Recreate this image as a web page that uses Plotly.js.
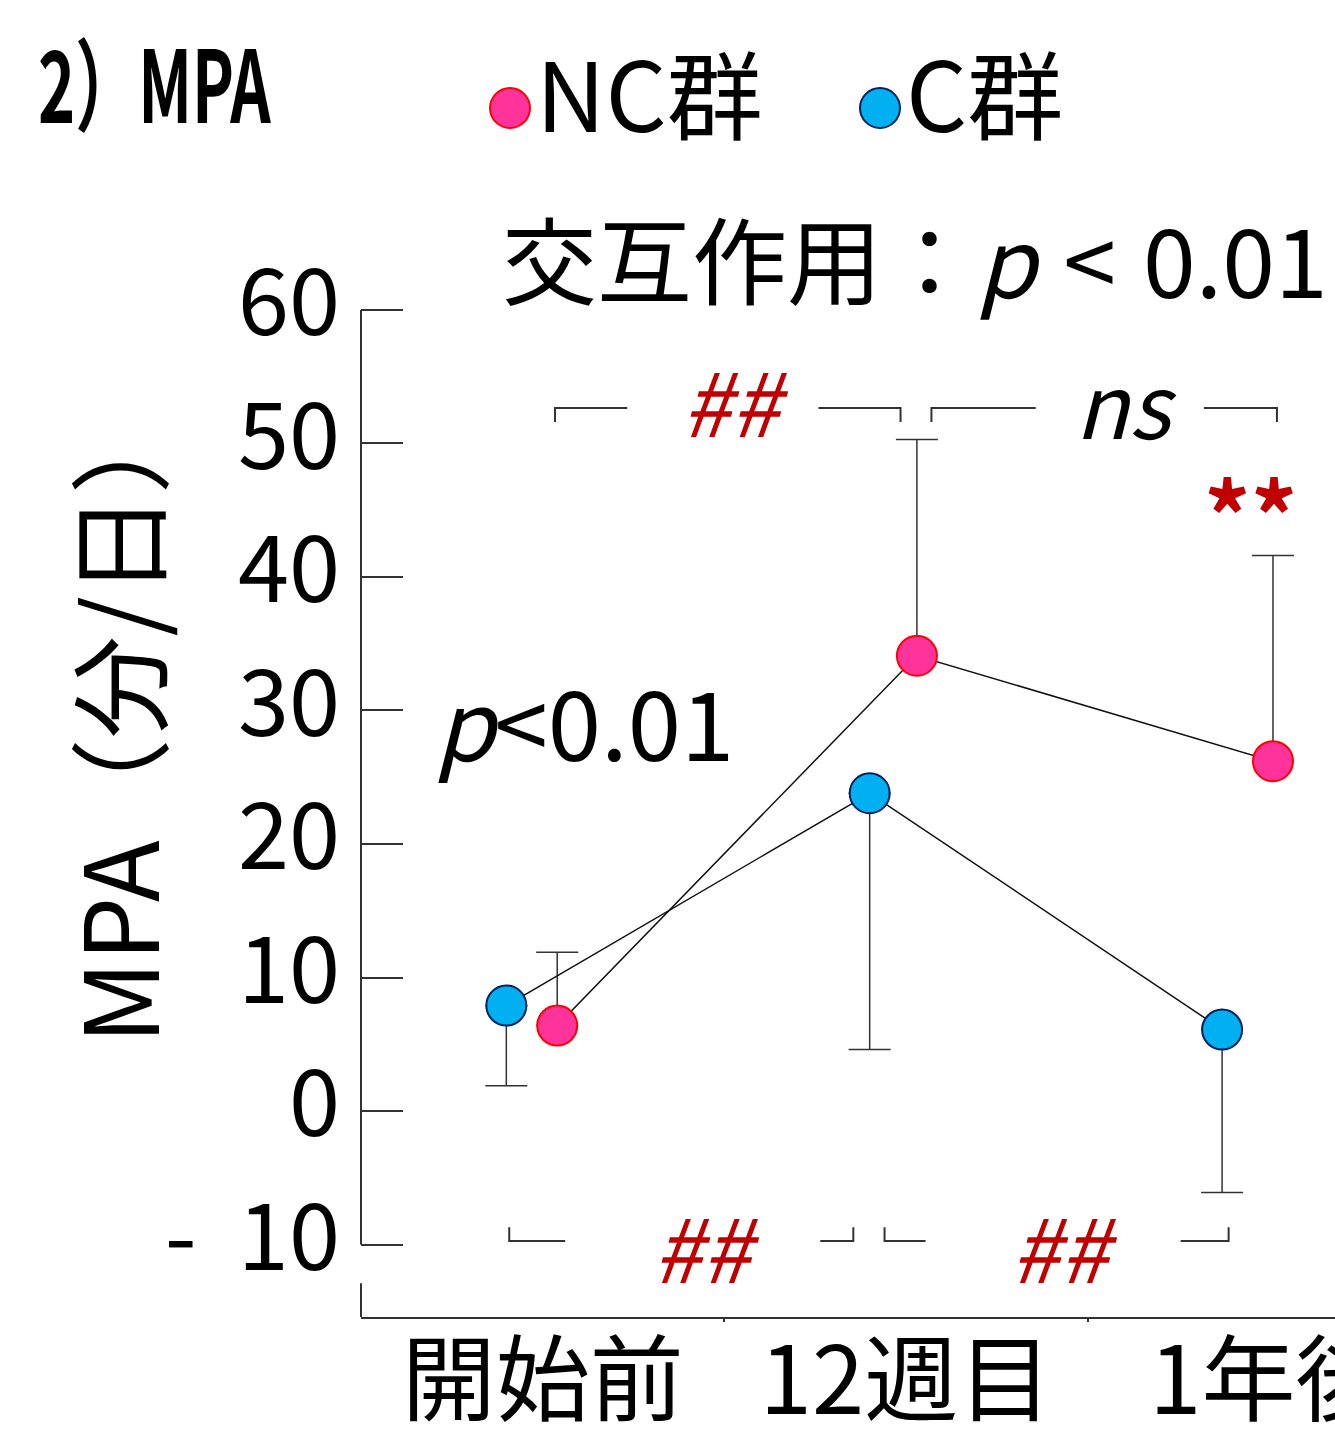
<!DOCTYPE html>
<html>
<head>
<meta charset="utf-8">
<script src="https://cdn.plot.ly/plotly-3.0.1.min.js"></script>
<style>
html,body{margin:0;padding:0;overflow:hidden;background:#fff;}
#chart{width:1460px;height:1438px;}
</style>
</head>
<body>
<div id="chart"></div>
<script>
// ---- data ----
const categories = ['開始前', '12週目', '1年後'];
const seriesNames = ['NC群', 'C群'];
const ncMean = [6.4, 34.1, 26.2];
const ncSD = [5.5, 16.2, 15.4];
const cMean = [7.9, 23.8, 6.1];
const cSD = [6.0, 19.2, 12.2];
const yTickVals = [-10, 0, 10, 20, 30, 40, 50, 60];
const yTickText = ['-\u00a0\u00a010', '0', '10', '20', '30', '40', '50', '60'];
const yTitle = 'MPA（分/日）';
const chartTitle = '2）MPA';

// ---- layout helpers (positions / styles) ----
const W = 1460, H = 1438;
const ncShift = [0.04, 0.03, 0.01];
const cShift = [-0.10, -0.10, -0.13];
const FONT = 'Noto Sans CJK JP, Noto Sans, sans-serif';
const RED = '#C00000';
const INK = '#333333';

const catIdx = categories.map((c, i) => i);
const zeros = catIdx.map(() => 0);

const traces = [
  {
    type: 'scatter', mode: 'lines+markers', name: seriesNames[0],
    x: catIdx.map((i) => i + ncShift[i]), y: ncMean,
    line: {color: '#111', width: 1.5},
    marker: {symbol: 'circle', size: 40, color: '#FF3399', line: {color: '#FF0000', width: 2}},
    error_y: {type: 'data', symmetric: false, array: ncSD, arrayminus: zeros, width: 21, thickness: 1.5, color: INK},
    cliponaxis: false, showlegend: false, hoverinfo: 'skip'
  },
  {
    type: 'scatter', mode: 'lines+markers', name: seriesNames[1],
    x: catIdx.map((i) => i + cShift[i]), y: cMean,
    line: {color: '#111', width: 1.5},
    marker: {symbol: 'circle', size: 40, color: '#00B0F0', line: {color: '#002060', width: 2}},
    error_y: {type: 'data', symmetric: false, array: zeros, arrayminus: cSD, width: 21, thickness: 1.5, color: INK},
    cliponaxis: false, showlegend: false, hoverinfo: 'skip'
  },
  // custom legend (large markers)
  {
    type: 'scatter', mode: 'markers+text', xaxis: 'x2', yaxis: 'y2',
    x: [510, 880], y: [0, 0], text: seriesNames, textposition: 'middle right',
    textfont: {family: FONT, size: 96, color: '#000'},
    marker: {symbol: 'circle', size: 40, color: ['#FF3399', '#00B0F0'], line: {color: ['#FF0000', '#002060'], width: 2}},
    cliponaxis: false, showlegend: false, hoverinfo: 'skip'
  }
];

// brackets
const brackets = [
  {x0: 0.034, x1: 0.985, g0: 0.233, g1: 0.759, y: 52.66, tip: 51.6, label: '<i>##</i>', lx: 0.531, ly: 53.4, color: RED},
  {x0: 1.070, x1: 2.021, g0: 1.357, g1: 1.820, y: 52.66, tip: 51.6, label: '<i>ns</i>', lx: 1.605, ly: 53.2, color: '#000'},
  {x0: -0.092, x1: 0.855, g0: 0.062, g1: 0.764, y: -9.74, tip: -8.7, label: '<i>##</i>', lx: 0.45, ly: -10.0, color: RED},
  {x0: 0.941, x1: 1.888, g0: 1.054, g1: 1.756, y: -9.74, tip: -8.7, label: '<i>##</i>', lx: 1.437, ly: -10.0, color: RED}
];
const shapes = [];
const annotations = [];
brackets.forEach((b) => {
  shapes.push({type: 'path', xref: 'x', yref: 'y',
    path: `M ${b.x0},${b.tip} L ${b.x0},${b.y} L ${b.g0},${b.y}`, line: {color: INK, width: 2}});
  shapes.push({type: 'path', xref: 'x', yref: 'y',
    path: `M ${b.g1},${b.y} L ${b.x1},${b.y} L ${b.x1},${b.tip}`, line: {color: INK, width: 2}});
  annotations.push({x: b.lx, y: b.ly, xref: 'x', yref: 'y', text: b.label, showarrow: false,
    font: {family: FONT, size: 88, color: b.color}, xanchor: 'center', yanchor: 'middle'});
});
// broken y axis line
shapes.push({type: 'line', xref: 'x domain', yref: 'y', x0: 0, x1: 0, y0: -10, y1: 60, line: {color: INK, width: 2}});
shapes.push({type: 'line', xref: 'x domain', yref: 'y', x0: 0, x1: 0, y0: -12.9, y1: -15.43, line: {color: INK, width: 2}});

annotations.push({x: -0.117, y: 64.0, xref: 'x', yref: 'y', xanchor: 'left', yanchor: 'middle', showarrow: false,
  text: '交互作用：<i>p</i>\u00a0\u200a&lt;\u00a0\u200a0.01', font: {family: FONT, size: 95, color: '#000'}});
annotations.push({x: 0.115, y: 29.3, xref: 'x', yref: 'y', xanchor: 'center', yanchor: 'middle', showarrow: false,
  text: '<i>p</i>&lt;0.01', font: {family: FONT, size: 96, color: '#000'}});
annotations.push({x: 1.949, y: 45.0, xref: 'x', yref: 'y', xanchor: 'center', yanchor: 'middle', showarrow: false,
  text: '<b>**</b>', font: {family: FONT, size: 92, color: RED}});
// y axis title placed beside the tick labels
annotations.push({x: 114 / W, y: 1 - 718 / H, xref: 'paper', yref: 'paper', xanchor: 'center', yanchor: 'middle',
  showarrow: false, textangle: -90, text: yTitle, font: {family: FONT, size: 102, color: '#000'}});

const layout = {
  width: W, height: H,
  margin: {l: 0, r: 0, t: 0, b: 0},
  paper_bgcolor: '#fff', plot_bgcolor: '#fff',
  font: {family: FONT, color: '#000'},
  showlegend: false,
  title: {text: chartTitle, xref: 'container', yref: 'container', x: 38 / W, xanchor: 'left', y: 1 - 88 / H, yanchor: 'middle',
    font: {family: 'Noto Sans CJK JP, Noto Sans, sans-serif', size: 100, weight: 'bold', color: '#000'}},
  xaxis: {
    domain: [361 / W, 1451 / W], range: [-0.5, 2.5],
    tickvals: catIdx, ticktext: categories, ticks: '',
    tickfont: {family: FONT, size: 94, color: '#000'},
    showline: true, linecolor: INK, linewidth: 2, showgrid: false, zeroline: false,
    ticklabelstandoff: -18,
    minor: {tickvals: [0.5, 1.5], ticks: 'outside', ticklen: 3, tickcolor: INK, tickwidth: 2},
    fixedrange: true
  },
  yaxis: {
    domain: [(H - 1317) / H, (H - 173) / H], range: [-15.43, 70.26],
    tickvals: yTickVals, ticktext: yTickText,
    ticks: 'inside', ticklen: 42, tickwidth: 2, tickcolor: INK,
    tickfont: {family: FONT, size: 92, color: '#000'},
    ticklabelstandoff: 20, ticklabelshift: -7,
    showline: false, showgrid: false, zeroline: false,
    fixedrange: true
  },
  xaxis2: {domain: [0, 1], range: [0, W], visible: false, anchor: 'y2', fixedrange: true},
  yaxis2: {domain: [1 - 216 / H, 1], range: [-1, 1], visible: false, anchor: 'x2', fixedrange: true},
  shapes: shapes,
  annotations: annotations
};

Plotly.newPlot('chart', traces, layout, {staticPlot: true, displayModeBar: false}).then(() => {
  // condense the title horizontally like the reference's narrow typeface
  const t = document.querySelector('.gtitle');
  if (t) {
    const x0 = parseFloat(t.getAttribute('x')) || 38;
    t.setAttribute('transform', `translate(${x0},0) scale(0.63,1) translate(${-x0},0)`);
  }
});
</script>
</body>
</html>
